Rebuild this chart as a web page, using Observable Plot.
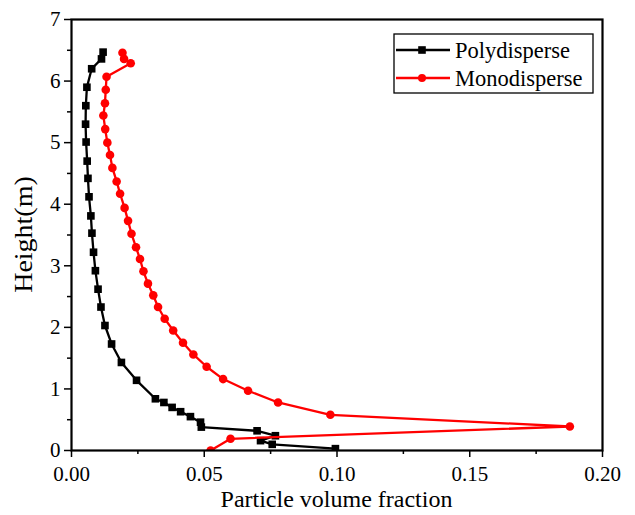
<!DOCTYPE html>
<html>
<head>
<meta charset="utf-8">
<script src="https://cdn.jsdelivr.net/npm/d3@7"></script>
<script src="https://cdn.jsdelivr.net/npm/@observablehq/plot@0.6"></script>
<style>
  html, body { margin: 0; padding: 0; background: #fff; }
  svg { display: block; }
  svg text { font-family: 'Liberation Serif', serif !important; }
</style>
</head>
<body>
<div id="chart"></div>
<script>
// Polydisperse series (particle volume fraction, height m)
const polyX = [0.0119,0.0113,0.0076,0.0058,0.0054,0.0053,0.0055,0.0059,0.0062,0.0066,0.0073,0.0077,0.0083,0.0090,0.0100,0.0111,0.0126,0.0151,0.0188,0.0245,0.0316,0.0348,0.0379,0.0411,0.0448,0.0486,0.0489,0.0699,0.0768,0.0712,0.0756,0.0994];
const polyY = [6.47,6.36,6.20,5.90,5.60,5.30,5.01,4.70,4.42,4.12,3.81,3.53,3.22,2.92,2.62,2.33,2.03,1.73,1.43,1.14,0.84,0.78,0.70,0.63,0.55,0.46,0.38,0.32,0.24,0.16,0.10,0.03];

// Monodisperse series
const monoX = [0.0192,0.0198,0.0223,0.0132,0.0129,0.0126,0.0120,0.0127,0.0135,0.0145,0.0154,0.0170,0.0183,0.0200,0.0213,0.0226,0.0243,0.0258,0.0271,0.0288,0.0308,0.0326,0.0351,0.0383,0.0420,0.0459,0.0509,0.0571,0.0665,0.0778,0.0975,0.1877,0.0599,0.0524];
const monoY = [6.46,6.36,6.29,6.07,5.86,5.64,5.44,5.22,5.00,4.80,4.59,4.37,4.17,3.94,3.73,3.52,3.30,3.11,2.91,2.71,2.52,2.33,2.14,1.95,1.75,1.56,1.36,1.16,0.97,0.78,0.58,0.39,0.19,0.0];

const seriesNames = ["Polydisperse", "Monodisperse"];
const seriesColors = ["#000000", "#ff0000"];

const xTicks = [0, 0.05, 0.10, 0.15, 0.20];
const xMinorTicks = [0.025, 0.075, 0.125, 0.175];
const yTicks = [0, 1, 2, 3, 4, 5, 6, 7];
const yMinorTicks = [0.5, 1.5, 2.5, 3.5, 4.5, 5.5, 6.5];

const xLabel = "Particle volume fraction";
const yLabel = "Height(m)";

const poly = polyX.map((x, i) => ({x, y: polyY[i]}));
const mono = monoX.map((x, i) => ({x, y: monoY[i]}));

const FONT = "Liberation Serif, serif";

const W = 635, H = 515;
const mL = 71, mR = 33, mT = 19, mB = 65;

const chart = Plot.plot({
  width: W,
  height: H,
  marginLeft: mL,
  marginRight: mR,
  marginTop: mT,
  marginBottom: mB,
  style: {fontFamily: FONT, fontSize: "21px", color: "#000", background: "#fff"},
  x: {domain: [0, 0.2]},
  y: {domain: [0, 7]},
  marks: [
    Plot.axisX({ticks: xMinorTicks, tickSize: 4, tickFormat: () => "", strokeWidth: 1.5, label: null}),
    Plot.axisX({ticks: xTicks, tickSize: 7, tickPadding: 9, tickFormat: d3.format(".2f"), strokeWidth: 1.5, fontSize: 21, label: null}),
    Plot.axisY({ticks: yMinorTicks, tickSize: 4, tickFormat: () => "", strokeWidth: 1.5, label: null}),
    Plot.axisY({ticks: yTicks, tickSize: 7, tickPadding: 4, tickFormat: d3.format("d"), strokeWidth: 1.5, fontSize: 21, label: null}),
    Plot.line(poly, {x: "x", y: "y", stroke: seriesColors[0], strokeWidth: 2.3, clip: true}),
    Plot.dot(poly, {x: "x", y: "y", symbol: "square", r: 4.3, fill: seriesColors[0], stroke: "none", clip: true}),
    Plot.line(mono, {x: "x", y: "y", stroke: seriesColors[1], strokeWidth: 2.3, clip: true}),
    Plot.dot(mono, {x: "x", y: "y", symbol: "circle", r: 4.3, fill: seriesColors[1], stroke: "none", clip: true}),
    Plot.frame({stroke: "#000", strokeWidth: 2.2})
  ]
});

document.getElementById("chart").appendChild(chart);

const svg = d3.select(chart);
svg.selectAll("g[aria-label='x-axis tick label'] text, g[aria-label='y-axis tick label'] text")
  .style("font-size", "21px");

const plotLeft = mL, plotRight = W - mR, plotTop = mT, plotBottom = H - mB;

svg.append("text")
  .attr("x", (plotLeft + plotRight) / 2)
  .attr("y", 507)
  .style("text-anchor", "middle")
  .style("font-size", "24px")
  .attr("fill", "#000")
  .text(xLabel);

svg.append("text")
  .attr("transform", `translate(32, ${(plotTop + plotBottom) / 2}) rotate(-90) scale(1.12, 1)`)
  .style("text-anchor", "middle")
  .style("font-size", "25px")
  .attr("fill", "#000")
  .text(yLabel);

const lg = svg.append("g");
lg.append("rect")
  .attr("x", 394).attr("y", 34).attr("width", 199).attr("height", 59)
  .attr("fill", "#fff").attr("stroke", "#000").attr("stroke-width", 1.3);

seriesNames.forEach((name, i) => {
  const yy = 50 + i * 28;
  lg.append("line")
    .attr("x1", 396).attr("x2", 450).attr("y1", yy).attr("y2", yy)
    .attr("stroke", seriesColors[i]).attr("stroke-width", 2.5);
  if (i === 0) {
    lg.append("rect").attr("x", 422 - 3.8).attr("y", yy - 3.8).attr("width", 7.6).attr("height", 7.6)
      .attr("fill", seriesColors[i]);
  } else {
    lg.append("circle").attr("cx", 422).attr("cy", yy).attr("r", 4)
      .attr("fill", seriesColors[i]);
  }
  lg.append("text")
    .attr("x", 455).attr("y", yy + 8)
    .style("text-anchor", "start")
    .style("font-size", "22.5px")
    .attr("fill", "#000")
    .text(name);
});
</script>
</body>
</html>
